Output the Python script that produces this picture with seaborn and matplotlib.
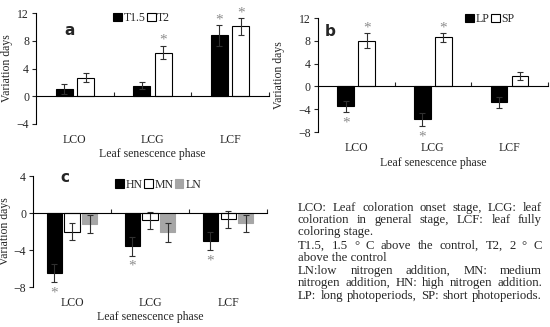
import numpy as np
import pandas as pd
import seaborn as sns
import matplotlib.pyplot as plt
from matplotlib import transforms

sns.set_style("white")
plt.rcParams['font.family'] = ['Liberation Serif', 'DejaVu Serif']

# Data
phases = ['LCO', 'LCG', 'LCF']

warm_groups = ['T1.5', 'T2']
warm_vals = {'T1.5': [1.0, 1.5, 8.8], 'T2': [2.7, 6.3, 10.1]}
warm_err = {'T1.5': [0.7, 0.5, 1.5], 'T2': [0.6, 1.0, 1.2]}
warm_sig = {'T1.5': [False, False, True], 'T2': [False, True, True]}

photo_groups = ['LP', 'SP']
photo_vals = {'LP': [-3.5, -5.8, -2.8], 'SP': [8.0, 8.6, 1.8]}
photo_err = {'LP': [1.0, 1.2, 0.9], 'SP': [1.3, 0.8, 0.7]}
photo_sig = {'LP': [True, True, False], 'SP': [True, True, False]}

nit_groups = ['HN', 'MN', 'LN']
nit_vals = {'HN': [-6.5, -3.6, -3.0], 'MN': [-2.0, -0.8, -0.7], 'LN': [-1.2, -2.1, -1.1]}
nit_err = {'HN': [1.0, 1.0, 1.0], 'MN': [0.9, 0.9, 0.9], 'LN': [1.0, 1.0, 0.9]}
nit_sig = {'HN': [True, True, True], 'MN': [False, False, False], 'LN': [False, False, False]}

notes = [
    "LCO: Leaf coloration onset stage, LCG: leaf",
    "coloration in general stage, LCF: leaf fully",
    "coloring stage.",
    "T1.5, 1.5 \u00b0 C above the control, T2, 2 \u00b0 C",
    "above the control",
    "LN:low nitrogen addition, MN: medium",
    "nitrogen addition, HN: high nitrogen addition.",
    "LP: long photoperiods, SP: short photoperiods.",
]
note_justify = [True, True, False, True, False, True, True, True]

FS = 8.5
STAR = '#8c8c8c'


def to_long(groups, vals, err, sig):
    rows = []
    for gi, g in enumerate(groups):
        for pi, p in enumerate(phases):
            rows.append({'phase': p, 'group': g, 'value': vals[g][pi],
                         'err': err[g][pi], 'sig': sig[g][pi], 'pi': pi, 'gi': gi})
    return pd.DataFrame(rows)


def panel(ax, groups, vals, err, sig, colors, width, gap, ylim, letter, letter_xy,
          leg_anchor):
    df = to_long(groups, vals, err, sig)
    sns.barplot(data=df, x='phase', y='value', hue='group', order=phases,
                hue_order=groups, palette=colors, edgecolor='black', linewidth=0.8,
                width=width, gap=gap, errorbar=None, ax=ax)

    # light grey bars have no dark outline
    for bar in ax.patches:
        if np.allclose(bar.get_facecolor()[:3], 166 / 255, atol=0.01):
            bar.set_edgecolor('#a6a6a6')

    # error bars and significance marks at the dodged bar centres
    n = len(groups)
    slot = width / n
    for _, r in df.iterrows():
        xc = r['pi'] + (r['gi'] - (n - 1) / 2) * slot
        ax.errorbar(xc, r['value'], yerr=r['err'], color='#303030', lw=0.8,
                    capsize=2.5, capthick=0.8)
        if r['sig']:
            if r['value'] >= 0:
                ax.annotate('*', (xc, r['value'] + r['err']), xytext=(0, -1),
                            textcoords='offset points', ha='center', va='bottom',
                            fontsize=11, color=STAR)
            else:
                ax.annotate('*', (xc, r['value'] - r['err']), xytext=(0, -3),
                            textcoords='offset points', ha='center', va='top',
                            fontsize=11, color=STAR)

    ax.set_xlim(-0.5, 2.5)
    ax.set_ylim(*ylim)
    ax.set_yticks(np.arange(ylim[0], ylim[1] + 1, 4))
    ax.tick_params(axis='y', direction='out', length=3, width=0.8, labelsize=FS,
                   pad=2, left=True)
    for s in ['top', 'right']:
        ax.spines[s].set_visible(False)
    ax.spines['left'].set_color('black')
    ax.spines['left'].set_linewidth(0.8)
    ax.spines['bottom'].set_position(('data', 0))
    ax.spines['bottom'].set_color('black')
    ax.spines['bottom'].set_linewidth(0.8)
    ax.set_xticks([0.5, 1.5, 2.5])
    ax.set_xticklabels([])
    ax.tick_params(axis='x', direction='in', length=3, width=0.8, bottom=True)
    ax.set_xlabel('')
    ax.set_ylabel('Variation days', fontsize=FS)

    trans = transforms.blended_transform_factory(ax.transData, ax.transAxes)
    for i, p in enumerate(phases):
        ax.text(i, -0.14, p, transform=trans, ha='center', va='center', fontsize=FS)
    ax.text(0.5, -0.27, 'Leaf senescence phase', transform=ax.transAxes,
            ha='center', va='center', fontsize=FS)
    ax.text(letter_xy[0], letter_xy[1], letter, transform=ax.transAxes,
            fontsize=11, fontweight='bold', family='DejaVu Sans', ha='center',
            va='center')

    ax.legend(loc='center left', bbox_to_anchor=leg_anchor, ncol=len(groups),
              frameon=False, fontsize=FS, handlelength=0.75, handleheight=0.75,
              handletextpad=0.15, columnspacing=0.1, borderaxespad=0)


fig = plt.figure(figsize=(5.5, 3.27), dpi=100)
ax_a = fig.add_axes([0.0655, 0.6208, 0.4236, 0.3394])
ax_b = fig.add_axes([0.578, 0.5963, 0.418, 0.3486])
ax_c = fig.add_axes([0.060, 0.1223, 0.4255, 0.3394])

panel(ax_a, warm_groups, warm_vals, warm_err, warm_sig, ['black', 'white'],
      0.55, 0.2, (-4, 12), 'a', (0.146, 0.84), (0.31, 0.955))
ax_a.yaxis.set_label_coords(-0.099, 0.5)

panel(ax_b, photo_groups, photo_vals, photo_err, photo_sig, ['black', 'white'],
      0.55, 0.2, (-8, 12), 'b', (0.052, 0.886), (0.62, 0.99))
ax_b.yaxis.set_label_coords(-0.143, 0.5)

panel(ax_c, nit_groups, nit_vals, nit_err, nit_sig, ['black', 'white', '#a6a6a6'],
      0.68, 0.15, (-8, 4), 'c', (0.137, 0.99), (0.33, 0.92))
ax_c.yaxis.set_label_coords(-0.092, 0.5)

# explanatory note block, justified line by line like the original caption
x0, x1 = 298, 542
line_y = [208, 220, 232, 246, 258, 271, 283, 296]
renderer = fig.canvas.get_renderer()
for txt, y, just in zip(notes, line_y, note_justify):
    yf = 1 - y / 327
    if not just:
        fig.text(x0 / 550, yf, txt, fontsize=9.2, ha='left', va='center')
        continue
    words = txt.split(' ')
    arts = [fig.text(0, yf, w, fontsize=9.2, ha='left', va='center') for w in words]
    widths = [a.get_window_extent(renderer).width for a in arts]
    space = (x1 - x0 - sum(widths)) / (len(words) - 1)
    x = x0
    for a, w in zip(arts, widths):
        a.set_x(x / 550)
        x += w + space

fig.savefig('out.png', dpi=100)
